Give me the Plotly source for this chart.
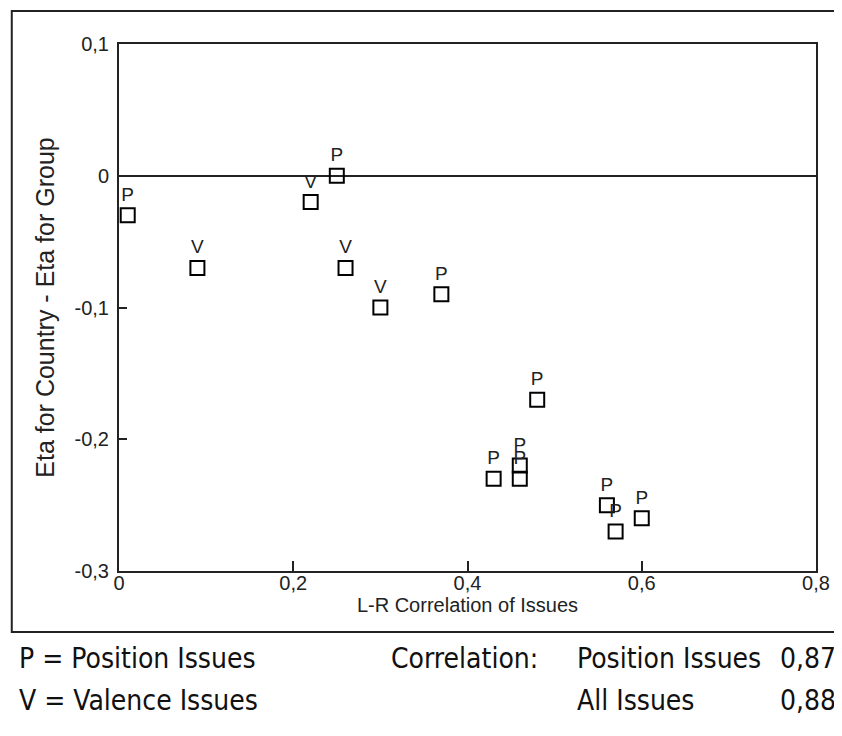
import plotly.graph_objects as go

# ---- data ----
lr_corr = [0.01, 0.09, 0.22, 0.25, 0.26, 0.30, 0.37, 0.48, 0.43, 0.46, 0.46, 0.56, 0.57, 0.60]
eta_diff = [-0.03, -0.07, -0.02, 0.00, -0.07, -0.10, -0.09, -0.17, -0.23, -0.22, -0.23, -0.25, -0.27, -0.26]
issue_type = ["P", "V", "V", "P", "V", "V", "P", "P", "P", "P", "P", "P", "P", "P"]

x_tickvals = [0, 0.2, 0.4, 0.6, 0.8]
x_ticktext = ["0", "0,2", "0,4", "0,6", "0,8"]
y_tickvals = [-0.3, -0.2, -0.1, 0, 0.1]
y_ticktext = ["-0,3", "-0,2", "-0,1", "0", "0,1"]

legend_rows = [
    ["P = Position Issues", "Correlation:", "Position Issues", "0,87"],
    ["V = Valence Issues", "", "All Issues", "0,88"],
]

# page has an 8px body margin; figure coordinates are page - 8
OFF = 8
W, H = 842 - OFF, 736 - OFF
L, R, T, B = 119 - OFF, 821 - OFF, 44 - OFF, 571 - OFF


def px(xp):
    return (xp - OFF - L) / (R - L)


def py(yp):
    return (B - (yp - OFF)) / (B - T)


fig = go.Figure()
fig.add_trace(go.Scatter(
    x=lr_corr, y=eta_diff, text=issue_type,
    mode="markers+text", textposition="top center",
    textfont=dict(family="Liberation Sans, Arial, sans-serif", size=19, color="#222"),
    marker=dict(symbol="square-open", size=14, color="black", line=dict(width=2, color="black")),
    cliponaxis=False, showlegend=False,
))

axis_font = dict(family="Liberation Sans, Arial, sans-serif", size=20, color="#222")
ytitle_font = dict(family="Liberation Sans, Arial, sans-serif", size=25, color="#222")

fig.update_layout(
    width=W, height=H,
    margin=dict(l=L, r=W - R, t=T, b=H - B, pad=0),
    paper_bgcolor="white", plot_bgcolor="white",
    font=axis_font,
    xaxis=dict(
        range=[0, 0.8], tickvals=x_tickvals, ticktext=x_ticktext,
        ticks="inside", ticklen=10, tickwidth=2, tickcolor="#222",
        showline=True, linecolor="#222", linewidth=2, mirror=True,
        showgrid=False, zeroline=False, ticklabelstandoff=-7,
        title=dict(text="L-R Correlation of Issues", font=axis_font, standoff=2),
        tickfont=axis_font,
    ),
    yaxis=dict(
        range=[-0.3, 0.1], tickvals=y_tickvals, ticktext=y_ticktext,
        ticks="inside", ticklen=8, tickwidth=2, tickcolor="#222",
        showline=True, linecolor="#222", linewidth=2, mirror=True,
        showgrid=False, zeroline=True, zerolinecolor="#222", zerolinewidth=1.5,
        ticklabelstandoff=4,
        title=dict(text="Eta for Country - Eta for Group", font=ytitle_font, standoff=13),
        tickfont=axis_font,
    ),
)

# outer frame around the chart (right edge runs off the page)
fig.add_shape(type="rect", xref="paper", yref="paper",
              x0=px(11), x1=px(860), y0=py(632), y1=py(11),
              line=dict(color="#222", width=2), fillcolor="rgba(0,0,0,0)", layer="below")

legend_font = dict(family="DejaVu Sans Condensed, Liberation Sans Narrow, Arial Narrow, sans-serif",
                   size=28, color="#111")
col_x = [16, 391, 578, 783]
row_y = [658, 700]
for r, row in enumerate(legend_rows):
    for c, txt in enumerate(row):
        if not txt:
            continue
        fig.add_annotation(x=px(col_x[c]), y=py(row_y[r]), xref="paper", yref="paper",
                           text=txt, showarrow=False, xanchor="left", yanchor="middle",
                           font=legend_font)

fig.write_html("out.html")
